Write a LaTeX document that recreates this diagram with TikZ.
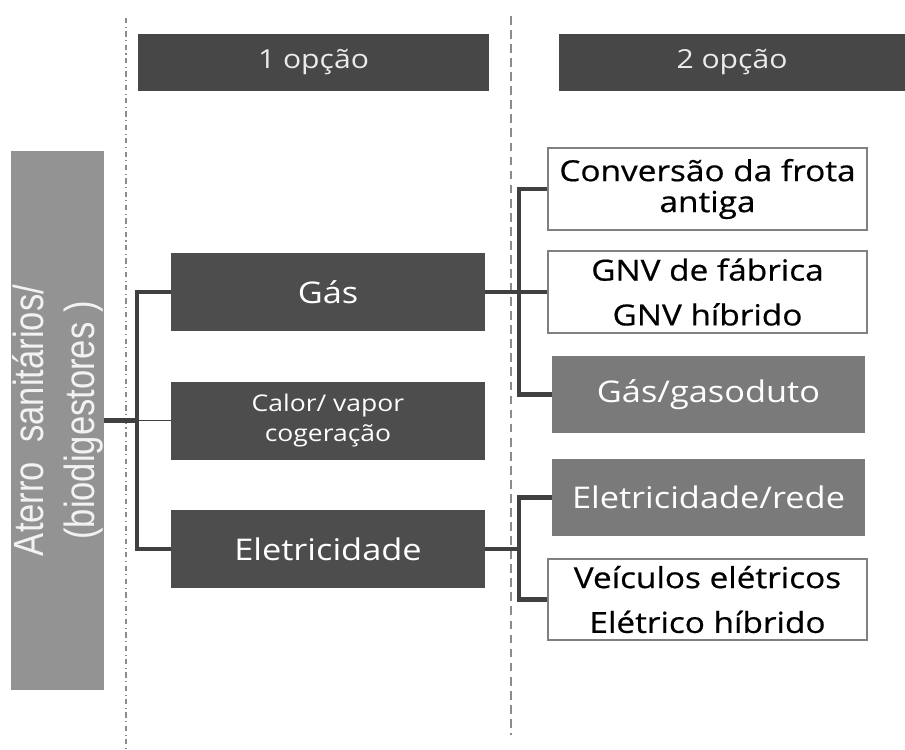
\documentclass[tikz,border=0pt]{standalone}
\usepackage{fontspec}
\setmainfont{Open Sans}
\newfontfamily\boxfont[FakeStretch=1.15]{Open Sans}
\newfontfamily\inkfont[FakeStretch=1.15, FakeBold=0.6]{Open Sans}
\newfontfamily\sidefont[FakeStretch=0.82]{Liberation Sans}
\usepackage{tikz}
\usetikzlibrary{positioning, calc}
\definecolor{hdrgrey}{HTML}{474747}
\definecolor{darkgrey}{HTML}{4D4D4D}
\definecolor{midgrey}{HTML}{7A7A7A}
\definecolor{sidegrey}{HTML}{939393}
\definecolor{linegrey}{HTML}{404040}
\definecolor{rimgrey}{HTML}{808080}

\begin{document}
\begin{tikzpicture}[
    hdr/.style={fill=hdrgrey, text=black!8, inner sep=0pt,
                minimum height=1.14cm, font=\boxfont\fontsize{14.9}{17}\selectfont},
    darkbox/.style={fill=darkgrey, text=white, inner sep=0pt, align=center,
                    minimum width=6.28cm, minimum height=1.56cm},
    greybox/.style={fill=midgrey, text=white, inner sep=0pt,
                    minimum width=6.26cm, minimum height=1.54cm,
                    font=\boxfont\fontsize{17}{20}\selectfont},
    whitebox/.style={draw=rimgrey, line width=0.9pt, fill=white, text=black,
                     inner sep=0pt, align=center, minimum width=6.38cm, minimum height=1.62cm},
    link/.style={draw=linegrey, line width=2.3pt},
    thinlink/.style={draw=linegrey, line width=1pt},
    sep/.style={draw=black!45, line width=0.6pt}]
  \useasboundingbox (0,0) rectangle (18.1,-14.98);

  \draw[sep, dash dot] (2.52,-0.36) -- (2.52,-14.98);
  \draw[sep, dash pattern=on 5pt off 3pt] (10.22,-0.32) -- (10.22,-14.7);

  \node[hdr, minimum width=7.02cm] (hd1) at (6.27,-1.25) {1 opção};
  \node[hdr, minimum width=6.92cm] (hd2) at (14.64,-1.25) {2 opção};

  \node[fill=sidegrey, text=black!5, rotate=90, inner sep=0pt, align=center,
        minimum width=10.78cm, minimum height=1.86cm,
        font=\sidefont\fontsize{24}{29}\selectfont] (aterro) at (1.15,-8.41)
        {Aterro~~sanitários/\\(biodigestores )};

  \node[darkbox, font=\boxfont\fontsize{17}{20}\selectfont] (gas) at (6.56,-5.84) {Gás};
  \node[darkbox, font=\boxfont\fontsize{13.1}{17}\selectfont] (calor) at (6.56,-8.41)
        {Calor/ vapor\\cogeração};
  \node[darkbox, font=\boxfont\fontsize{17}{20}\selectfont] (elec) at (6.56,-10.98) {Eletricidade};

  \node[whitebox, minimum height=1.64cm, font=\inkfont\fontsize{16.5}{17.6}\selectfont] (conv)
        at (14.15,-3.78) {Conversão da frota\\antiga};
  \node[whitebox, minimum height=1.64cm, font=\inkfont\fontsize{16.5}{25.5}\selectfont] (gnv)
        at (14.15,-5.84) {GNV de fábrica\\GNV híbrido};
  \node[greybox] (gasd) at (14.17,-7.89) {Gás/gasoduto};
  \node[greybox] (rede) at (14.17,-9.95) {Eletricidade/rede};
  \node[whitebox, font=\inkfont\fontsize{16.5}{25.5}\selectfont] (veic)
        at (14.15,-11.99) {Veículos elétricos\\Elétrico híbrido};

  \coordinate (jl) at (2.74,0);
  \coordinate (jr) at (10.38,0);

  \draw[link] (gas.west) -- (gas.west -| jl) |- (elec.west);
  \draw[link] (aterro.south) -- (aterro.south -| jl);
  \draw[thinlink] (aterro.south -| jl) -- (calor.west);

  \draw[link] (conv.west) -- (conv.west -| jr) |- (gasd.west);
  \draw[link] (gas.east) -- (gnv.west);
  \draw[link] (rede.west) -- (rede.west -| jr) |- (veic.west);
  \draw[link] (elec.east) -- (elec.east -| jr);
\end{tikzpicture}
\end{document}
